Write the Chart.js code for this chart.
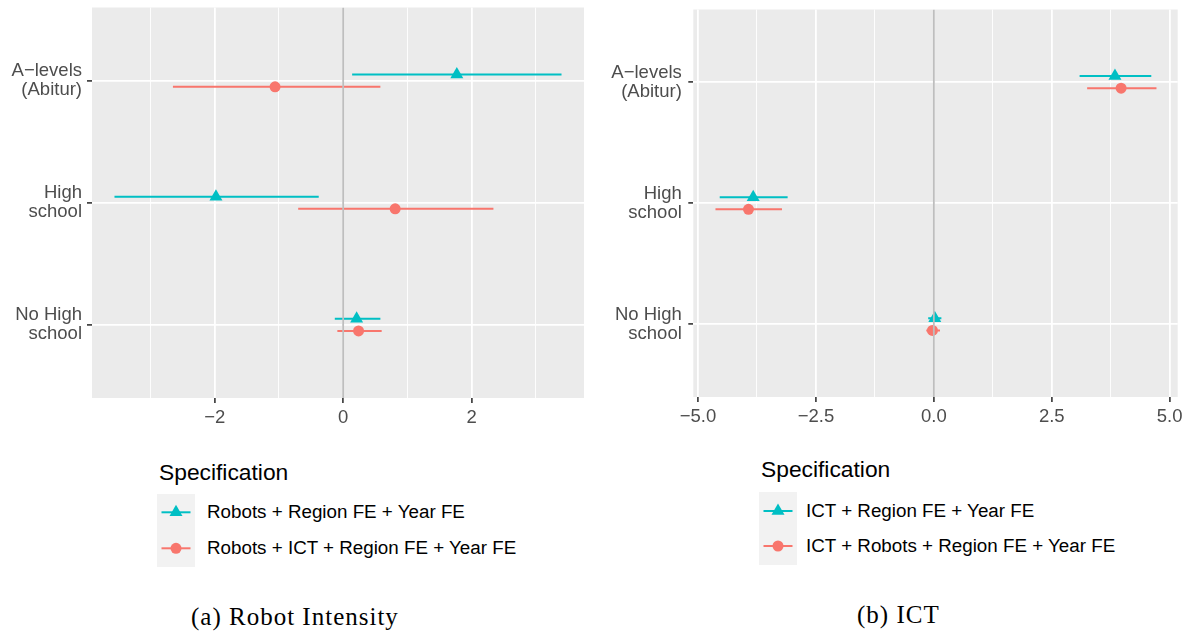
<!DOCTYPE html>
<html><head><meta charset="utf-8">
<script src="https://cdn.jsdelivr.net/npm/chart.js@4.4.1/dist/chart.umd.min.js"></script>
<style>
html,body{margin:0;padding:0;background:#fff;}
body{width:1191px;height:632px;overflow:hidden;position:relative;font-family:"Liberation Sans",Arial,Helvetica,sans-serif;}
.panel{position:absolute;top:0;height:440px;}
#wrapA{left:0;width:600px;}
#wrapB{left:600px;width:591px;}
.legtitle{position:absolute;font-size:22.8px;line-height:22.8px;color:#000;white-space:nowrap;}
.keybox{position:absolute;background:#F2F2F2;}
.leglab{position:absolute;font-size:18.8px;line-height:18.8px;color:#000;white-space:nowrap;}
.caption{position:absolute;font-family:"Liberation Serif","Times New Roman",serif;font-size:25px;line-height:25px;letter-spacing:1px;color:#000;white-space:nowrap;}
</style></head>
<body>
<div id="wrapA" class="panel"><canvas id="chartA" width="600" height="440"></canvas></div>
<div id="wrapB" class="panel"><canvas id="chartB" width="591" height="440"></canvas></div>
<div id="legends"></div>
<div class="caption" id="capA" style="left:191px;top:604px;">(a) Robot Intensity</div>
<div class="caption" id="capB" style="left:857px;top:602px;">(b) ICT</div>
<script>
// ---------- data ----------
const CATEGORIES = [['A\u2212levels', '(Abitur)'], ['High', 'school'], ['No High', 'school']];

// Panel (a): Robot intensity
const A_LABELS = ['Robots + Region FE + Year FE', 'Robots + ICT + Region FE + Year FE'];
const A1_EST = [1.77, -1.98, 0.21];
const A1_LO  = [0.14, -3.56, -0.13];
const A1_HI  = [3.40, -0.38, 0.58];
const A2_EST = [-1.06, 0.81, 0.24];
const A2_LO  = [-2.65, -0.70, -0.09];
const A2_HI  = [0.58, 2.34, 0.60];

// Panel (b): ICT
const B_LABELS = ['ICT + Region FE + Year FE', 'ICT + Robots + Region FE + Year FE'];
const B1_EST = [3.84, -3.83, 0.02];
const B1_LO  = [3.09, -4.54, -0.12];
const B1_HI  = [4.61, -3.10, 0.16];
const B2_EST = [3.97, -3.93, -0.03];
const B2_LO  = [3.25, -4.63, -0.16];
const B2_HI  = [4.72, -3.22, 0.13];

// axis ticks
const XTICKS_A = [-2, 0, 2];
const XTICKLABELS_A = ['\u22122', '0', '2'];
const XMINOR_A = [-3, -1, 1, 3];
const XLIM_A = [-3.91, 3.75];
const XTICKS_B = [-5, -2.5, 0, 2.5, 5];
const XTICKLABELS_B = ['\u22125.0', '\u22122.5', '0.0', '2.5', '5.0'];
const XMINOR_B = [-3.75, -1.25, 1.25, 3.75];
const XLIM_B = [-5.10, 5.17];

// ---------- style ----------
const TEAL = '#00BFC4';
const RED = '#F8766D';
const DODGE = 0.05;
const TXT = '#4D4D4D';

Chart.defaults.font.family = '"Liberation Sans", Arial, Helvetica, sans-serif';
Chart.defaults.animation = false;

const panelBg = {
  id: 'panelBg',
  beforeDraw(chart) {
    const { ctx, chartArea: a } = chart;
    ctx.save();
    ctx.fillStyle = '#EBEBEB';
    ctx.fillRect(a.left, a.top, a.right - a.left, a.bottom - a.top);
    ctx.restore();
  }
};

function makeChart(id, series, xt, geo) {
  const nC = CATEGORIES.length;
  const yOf = i => nC - i;
  const yMin = 0.4, yMax = nC + 0.6;
  const datasets = [];
  series.forEach((ser, k) => {
    const off = k === 0 ? DODGE : -DODGE;
    const pts = [];
    ser.lo.forEach((lo, i) => {
      pts.push({ x: lo, y: yOf(i) + off }, { x: ser.hi[i], y: yOf(i) + off }, { x: null, y: null });
    });
    datasets.push({ data: pts, showLine: true, borderColor: ser.color, borderWidth: 2, pointRadius: 0, pointHoverRadius: 0, spanGaps: false, order: 3 });
    datasets.push({ data: ser.est.map((v, i) => ({ x: v, y: yOf(i) + off })), pointStyle: ser.shape, pointRadius: ser.r, pointHoverRadius: ser.r, backgroundColor: ser.color, borderColor: ser.color, borderWidth: 0, order: 2 });
  });
  datasets.push({ data: [{ x: 0, y: yMin }, { x: 0, y: yMax }], showLine: true, borderColor: '#BEBEBE', borderWidth: 1.8, pointRadius: 0, pointHoverRadius: 0, order: 1 });

  const isMajor = v => xt.major.indexOf(v) >= 0;
  return new Chart(document.getElementById(id), {
    type: 'scatter',
    data: { datasets },
    plugins: [panelBg],
    options: {
      responsive: false,
      devicePixelRatio: 1,
      animation: false,
      events: [],
      layout: { padding: { top: geo.top, right: geo.right, left: 0, bottom: 0 } },
      plugins: { legend: { display: false }, tooltip: { enabled: false } },
      scales: {
        x: {
          type: 'linear', min: xt.lim[0], max: xt.lim[1],
          afterBuildTicks: sc => { sc.ticks = xt.major.concat(xt.minor).sort((a, b) => a - b).map(v => ({ value: v })); },
          afterFit: sc => { sc.height = geo.xAxisH; sc.paddingLeft = 0; sc.paddingRight = 0; },
          ticks: {
            autoSkip: false, maxRotation: 0, minRotation: 0, padding: geo.xPad, color: TXT, font: { size: 18.5 },
            callback: v => { const j = xt.major.indexOf(v); return j >= 0 ? xt.labels[j] : ''; }
          },
          grid: {
            color: '#FFFFFF',
            lineWidth: c => (c.tick && isMajor(c.tick.value)) ? 1.8 : 0.9,
            drawTicks: true, tickLength: 5,
            tickColor: c => (c.tick && isMajor(c.tick.value)) ? '#333333' : 'rgba(0,0,0,0)',
            tickWidth: 1.6
          },
          border: { display: false }
        },
        y: {
          type: 'linear', min: yMin, max: yMax,
          afterBuildTicks: sc => { sc.ticks = CATEGORIES.map((c, i) => ({ value: yOf(i) })).sort((a, b) => a.value - b.value); },
          afterFit: sc => { sc.width = geo.yAxisW; sc.paddingTop = 0; sc.paddingBottom = 0; },
          ticks: {
            autoSkip: false, padding: geo.yPad, color: TXT, font: { size: 18.5, lineHeight: 1.03 },
            callback: v => CATEGORIES[nC - v]
          },
          grid: { color: '#FFFFFF', lineWidth: 1.8, drawTicks: true, tickLength: 5, tickColor: '#333333', tickWidth: 1.6 },
          border: { display: false }
        }
      }
    }
  });
}

const seriesA = [
  { label: A_LABELS[0], est: A1_EST, lo: A1_LO, hi: A1_HI, color: TEAL, shape: 'triangle', r: 7.5 },
  { label: A_LABELS[1], est: A2_EST, lo: A2_LO, hi: A2_HI, color: RED, shape: 'circle', r: 5.5 }
];
const seriesB = [
  { label: B_LABELS[0], est: B1_EST, lo: B1_LO, hi: B1_HI, color: TEAL, shape: 'triangle', r: 7.5 },
  { label: B_LABELS[1], est: B2_EST, lo: B2_LO, hi: B2_HI, color: RED, shape: 'circle', r: 5.5 }
];

makeChart('chartA', seriesA, { major: XTICKS_A, minor: XMINOR_A, labels: XTICKLABELS_A, lim: XLIM_A },
  { top: 6, right: 16, xAxisH: 42, yAxisW: 92, yPad: 5, xPad: 4 });
makeChart('chartB', seriesB, { major: XTICKS_B, minor: XMINOR_B, labels: XTICKLABELS_B, lim: XLIM_B },
  { top: 9.5, right: 13.3, xAxisH: 43, yAxisW: 93.3, yPad: 6.5, xPad: 4 });

// ---------- legends (ggplot style) ----------
function buildLegend(series, geo) {
  const host = document.getElementById('legends');
  const t = document.createElement('div');
  t.className = 'legtitle';
  t.textContent = 'Specification';
  t.style.left = geo.titleX + 'px';
  t.style.top = (geo.titleBase - 0.8465 * 22.8) + 'px';
  host.appendChild(t);

  const box = document.createElement('div');
  box.className = 'keybox';
  box.style.left = geo.boxX + 'px';
  box.style.top = geo.boxY + 'px';
  box.style.width = geo.boxW + 'px';
  box.style.height = geo.boxH + 'px';
  host.appendChild(box);

  const NS = 'http://www.w3.org/2000/svg';
  const svg = document.createElementNS(NS, 'svg');
  svg.setAttribute('width', geo.boxW);
  svg.setAttribute('height', geo.boxH);
  svg.style.position = 'absolute';
  svg.style.left = '0';
  svg.style.top = '0';
  box.appendChild(svg);

  series.forEach((ser, k) => {
    const cy = geo.keyY[k] - geo.boxY;
    const cx = geo.boxW / 2;
    const ln = document.createElementNS(NS, 'line');
    ln.setAttribute('x1', 4.5); ln.setAttribute('x2', geo.boxW - 4.5);
    ln.setAttribute('y1', cy); ln.setAttribute('y2', cy);
    ln.setAttribute('stroke', ser.color); ln.setAttribute('stroke-width', 2);
    svg.appendChild(ln);
    let m;
    if (ser.shape === 'triangle') {
      m = document.createElementNS(NS, 'polygon');
      const r = ser.r;
      m.setAttribute('points', `${cx},${cy - r} ${cx + r * 0.866},${cy + r / 2} ${cx - r * 0.866},${cy + r / 2}`);
    } else {
      m = document.createElementNS(NS, 'circle');
      m.setAttribute('cx', cx); m.setAttribute('cy', cy); m.setAttribute('r', ser.r);
    }
    m.setAttribute('fill', ser.color);
    svg.appendChild(m);

    const lab = document.createElement('div');
    lab.className = 'leglab';
    lab.textContent = ser.label;
    lab.style.left = geo.labelX + 'px';
    lab.style.top = (geo.keyY[k] - 9.2) + 'px';
    host.appendChild(lab);
  });
}

buildLegend(seriesA, { titleX: 159, titleBase: 480, boxX: 157, boxY: 494, boxW: 38, boxH: 73, keyY: [512.3, 548.3], labelX: 207 });
buildLegend(seriesB, { titleX: 761, titleBase: 477.5, boxX: 759, boxY: 492, boxW: 38, boxH: 73, keyY: [511, 546], labelX: 806 });
</script>
</body></html>
